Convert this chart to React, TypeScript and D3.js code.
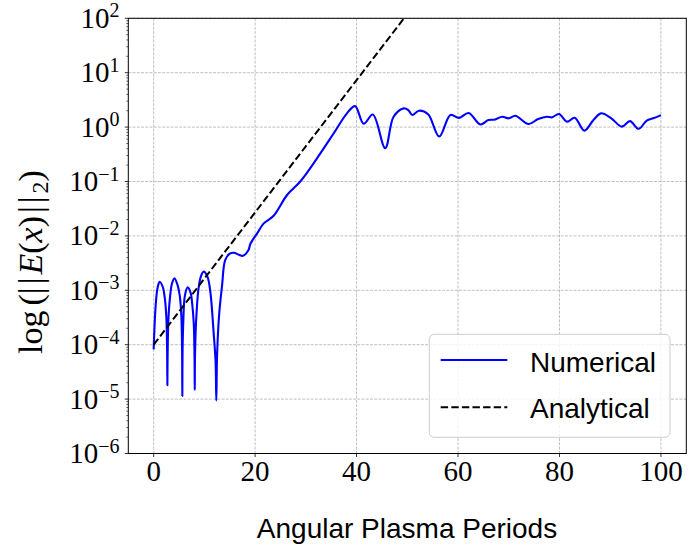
import React from "react";
import * as d3 from "d3";

// ---- data ----
const numT = [
  0, 0.3, 0.6, 0.9, 1.2, 1.8, 2.2, 2.5, 2.65, 2.7, 2.75, 2.9, 3.2, 3.6, 4.1,
  4.7, 5.15, 5.45, 5.6, 5.65, 5.7, 5.85, 6.15, 6.7,
  7.3, 7.6, 7.9, 8.05, 8.1, 8.15, 8.35, 8.8, 9.3, 9.85,
  10.6, 11.2, 11.8, 12.2, 12.35, 12.5, 12.9, 13.5, 14.1, 15.0, 15.8, 16.8, 17.6, 18.7,
  19.05, 20.4, 21.7, 23.6, 26.3, 28.9, 32.2, 35.5, 38.1, 39.7,
  41.4, 43.2, 45.65, 47.3, 49.3, 50.2, 51.0, 52.3, 54.1, 56.3, 58.5, 60.2, 62.1,
  64.4, 66.0, 67.3, 68.7, 70.0, 71.3, 73.9, 75.8, 77.5, 78.5, 79.9, 81.5, 83.0,
  84.9, 86.7, 88.2, 90.1, 92.3, 93.9, 95.6, 97.2, 98.5, 100,
];
const numV = [
  8.2e-5, 3.8e-4, 8.7e-4, 1.26e-3, 1.44e-3, 1.15e-3, 7.1e-4, 3.2e-4, 7.9e-5, 1.8e-5, 6.3e-5, 2.8e-4, 7.1e-4, 1.32e-3, 1.66e-3,
  1.26e-3, 7.9e-4, 3.5e-4, 8.9e-5, 1.14e-5, 7.9e-5, 2.8e-4, 7.9e-4, 1.13e-3,
  8.9e-4, 5.6e-4, 2.5e-4, 6.3e-5, 1.47e-5, 6.3e-5, 2.5e-4, 1.0e-3, 1.78e-3, 2.2e-3,
  1.78e-3, 8.9e-4, 1.78e-4, 5.0e-5, 9.4e-6, 6.3e-5, 3.5e-4, 1.26e-3, 3.6e-3, 4.7e-3, 4.9e-3, 4.5e-3, 4.3e-3, 5.5e-3,
  7.1e-3, 1.11e-2, 1.7e-2, 2.32e-2, 5.65e-2, 0.1, 0.267, 0.77, 1.79, 2.43,
  1.15, 1.7, 0.41, 1.55, 2.21, 2.06, 1.67, 2.0, 1.72, 0.67, 1.67, 1.48, 1.82,
  1.12, 1.35, 1.38, 1.55, 1.45, 1.62, 1.14, 1.41, 1.55, 1.51, 1.74, 1.26, 1.48,
  0.86, 1.35, 1.79, 1.48, 1.02, 1.29, 0.93, 1.32, 1.45, 1.66,
];
const anaT = [0, 50];
const anaV = [1.0e-4, 1.2e2];
const xTicks = [0, 20, 40, 60, 80, 100];
const yExps = [2, 1, 0, -1, -2, -3, -4, -5, -6];
const legendLabels = ["Numerical", "Analytical"];

const W = 693, H = 549;
const L = 128.3, R = 686.3, T = 18.3, B = 453.5;

export default function App() {
  const x = d3.scaleLinear().domain([-5, 105]).range([L, R]);
  const y = d3.scaleLog().domain([1e-6, 1e2]).range([B, T]);

  const line = d3
    .line<[number, number]>()
    .x((d) => x(d[0]))
    .y((d) => y(d[1]))
    .curve(d3.curveCatmullRom.alpha(0.5));
  const numData = numT.map((t, i) => [t, numV[i]] as [number, number]);
  const anaLine = d3
    .line<[number, number]>()
    .x((d) => x(d[0]))
    .y((d) => y(d[1]));
  const anaData = anaT.map((t, i) => [t, anaV[i]] as [number, number]);

  const minor: number[] = [];
  for (let e = -6; e < 2; e++) for (let m = 2; m <= 9; m++) minor.push(m * Math.pow(10, e));

  const serif = "'Liberation Serif', 'DejaVu Serif', serif";
  const sans = "'Liberation Sans', Arial, sans-serif";
  const grid = "#b0b0b0";

  return (
    <svg width={W} height={H} style={{ position: "absolute", left: 0, top: 0 }} xmlns="http://www.w3.org/2000/svg">
      <defs>
        <clipPath id="plot">
          <rect x={L} y={T} width={R - L} height={B - T} />
        </clipPath>
      </defs>
      <rect x={0} y={0} width={W} height={H} fill="white" />
      {/* grid */}
      {xTicks.map((t) => (
        <line key={"gx" + t} x1={x(t)} x2={x(t)} y1={T} y2={B} stroke={grid} strokeWidth={0.8} strokeDasharray="2.96,1.28" />
      ))}
      {yExps.map((e) => (
        <line key={"gy" + e} x1={L} x2={R} y1={y(Math.pow(10, e))} y2={y(Math.pow(10, e))} stroke={grid} strokeWidth={0.8} strokeDasharray="2.96,1.28" />
      ))}
      {/* series */}
      <g clipPath="url(#plot)">
        <path d={line(numData) || ""} fill="none" stroke="#0000ff" strokeWidth={2.1} strokeLinejoin="round" />
        <path d={anaLine(anaData) || ""} fill="none" stroke="#000" strokeWidth={2} strokeDasharray="7.4,3.2" />
      </g>
      {/* spines */}
      <rect x={L} y={T} width={R - L} height={B - T} fill="none" stroke="#000" strokeWidth={1} />
      {/* x ticks */}
      {xTicks.map((t) => (
        <g key={"xt" + t}>
          <line x1={x(t)} x2={x(t)} y1={B} y2={B + 3.5} stroke="#000" strokeWidth={0.8} />
          <text x={x(t)} y={480.5} textAnchor="middle" fontFamily={serif} fontSize={29}>
            {t}
          </text>
        </g>
      ))}
      {/* y ticks */}
      {minor.map((v, i) => (
        <line key={"ym" + i} x1={L - 2} x2={L} y1={y(v)} y2={y(v)} stroke="#000" strokeWidth={0.6} />
      ))}
      {yExps.map((e) => {
        const yy = y(Math.pow(10, e));
        return (
          <g key={"yt" + e}>
            <line x1={L - 3.5} x2={L} y1={yy} y2={yy} stroke="#000" strokeWidth={0.8} />
            <text x={119.5} y={yy + 9.5} textAnchor="end" fontFamily={serif} fontSize={29}>
              <tspan>10</tspan>
              <tspan dy={-10.5} fontSize={20}>{e < 0 ? "\u2212" + Math.abs(e) : String(e)}</tspan>
            </text>
          </g>
        );
      })}
      {/* axis labels */}
      <text x={407} y={538} textAnchor="middle" fontFamily={sans} fontSize={28}>
        Angular Plasma Periods
      </text>
      <text transform="translate(42,262) rotate(-90)" textAnchor="middle" fontFamily={serif} fontSize={34}>
        <tspan>log</tspan>
        <tspan dx={5}>(</tspan>
        <tspan letterSpacing={3}>||</tspan>
        <tspan fontStyle="italic">E</tspan>
        <tspan>(</tspan>
        <tspan fontStyle="italic">x</tspan>
        <tspan letterSpacing={3}>)||</tspan>
        <tspan fontSize={24} dy={6}>2</tspan>
        <tspan dy={-6}>)</tspan>
      </text>
      {/* legend */}
      <g>
        <rect x={429.3} y={334.3} width={240.7} height={103} rx={5} ry={5} fill="white" fillOpacity={0.8} stroke="#cccccc" strokeWidth={1} />
        <line x1={440.7} x2={507.3} y1={360} y2={360} stroke="#0000ff" strokeWidth={2} />
        <line x1={440.7} x2={507.3} y1={407.3} y2={407.3} stroke="#000" strokeWidth={2} strokeDasharray="7.4,3.2" />
        <text x={530} y={371.5} fontFamily={sans} fontSize={28}>{legendLabels[0]}</text>
        <text x={530} y={418.3} fontFamily={sans} fontSize={28}>{legendLabels[1]}</text>
      </g>
    </svg>
  );
}
